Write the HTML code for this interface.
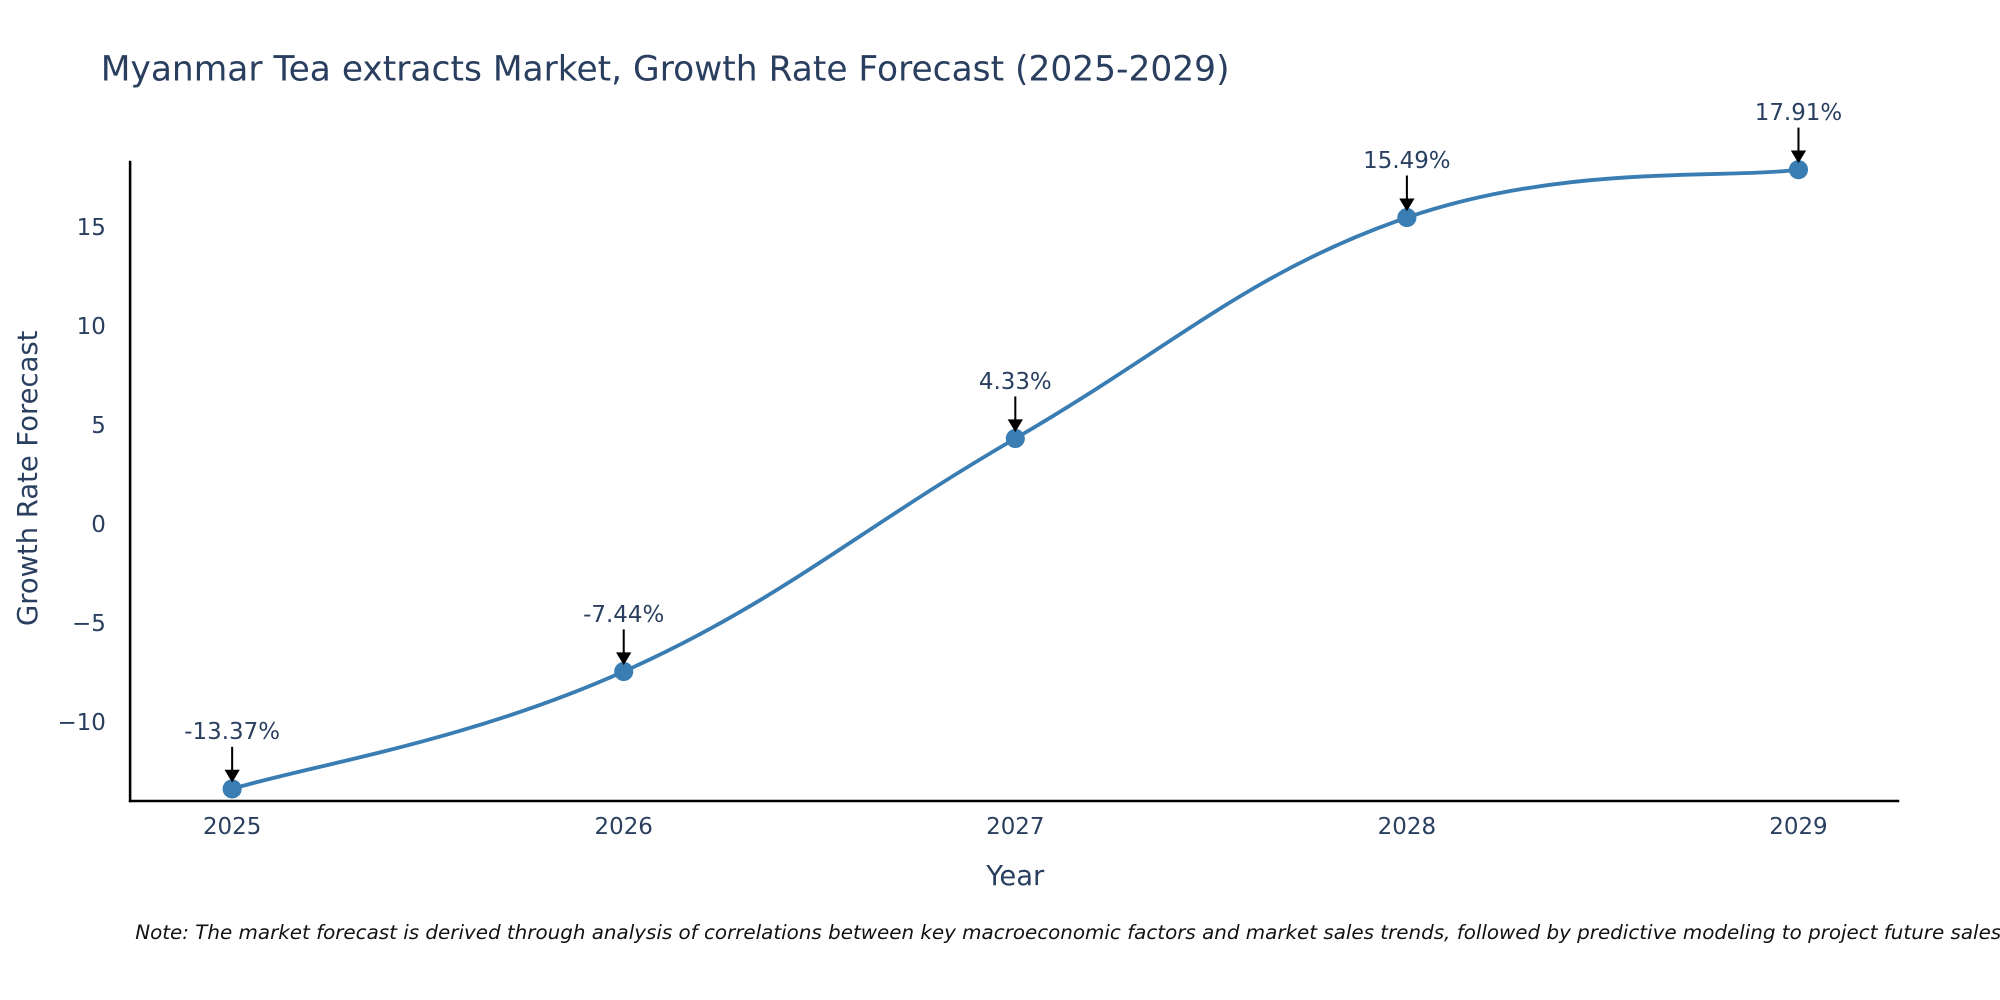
<!DOCTYPE html>
<html><head><meta charset="utf-8"><style>
html,body{margin:0;padding:0;background:#fff;width:2000px;height:1000px;overflow:hidden}
svg{display:block;font-family:"DejaVu Sans","Liberation Sans",sans-serif}
</style></head><body>
<svg id="chart" width="2000" height="1000" viewBox="0 0 1568 784">
<text x="79" y="63" font-size="27" fill="#2a3f5f">Myanmar Tea extracts Market, Growth Rate Forecast (2025-2029)</text>
<g id="yticks"></g>
<g id="xticks"></g>
<line x1="102" y1="126" x2="102" y2="629" stroke="#000" stroke-width="2"/>
<line x1="101" y1="628" x2="1489" y2="628" stroke="#000" stroke-width="2"/>
<path id="line" fill="none" stroke="#3a7db3" stroke-width="3"/>
<g id="points"></g>
<g id="annots"></g>
<text x="796" y="694" font-size="21.5" fill="#2a3f5f" text-anchor="middle">Year</text>
<text transform="translate(29,375) rotate(-90)" font-size="21.5" fill="#2a3f5f" text-anchor="middle">Growth Rate Forecast</text>
<text x="106" y="736" font-size="15.6" font-style="italic" fill="#111">Note: The market forecast is derived through analysis of correlations between key macroeconomic factors and market sales trends, followed by predictive modeling to project future sales.</text>
</svg>
<script>
const years = ["2025","2026","2027","2028","2029"];
const values = [-13.37, -7.44, 4.33, 15.49, 17.91];
const yTicks = [-10, -5, 0, 5, 10, 15];
const yTickLabels = ["\u221210","\u22125","0","5","10","15"];
const NS = "http://www.w3.org/2000/svg";
function xs(i){return 182 + i*307;}
function ys(v){return 411 - v*15.52;}
function mk(tag, attrs, parent){const e=document.createElementNS(NS,tag);for(const k in attrs)e.setAttribute(k,attrs[k]);parent.appendChild(e);return e;}
const yt=document.getElementById('yticks');
yTicks.forEach((t,i)=>{
  const e=mk('text',{x:83,y:ys(t)+6,'font-size':18,fill:'#2a3f5f','text-anchor':'end'},yt);
  e.textContent=yTickLabels[i];
  
  
});
const xt=document.getElementById('xticks');
years.forEach((y,i)=>{
  const e=mk('text',{x:xs(i),y:654,'font-size':18,fill:'#2a3f5f','text-anchor':'middle'},xt);
  e.textContent=y;
  
  
});
const P=values.map((v,i)=>[xs(i),ys(v)]);
let d=`M${P[0][0]},${P[0][1]}`;
for(let i=0;i<P.length-1;i++){
  const p0=P[Math.max(i-1,0)],p1=P[i],p2=P[i+1],p3=P[Math.min(i+2,P.length-1)];
  const c1=[p1[0]+(p2[0]-p0[0])/5,p1[1]+(p2[1]-p0[1])/5];
  const c2=[p2[0]-(p3[0]-p1[0])/5,p2[1]-(p3[1]-p1[1])/5];
  d+=` C${c1[0]},${c1[1]} ${c2[0]},${c2[1]} ${p2[0]},${p2[1]}`;
}
document.getElementById('line').setAttribute('d',d);
const pts=document.getElementById('points'),an=document.getElementById('annots');
values.forEach((v,i)=>{
  const c=mk('circle',{cx:xs(i),cy:ys(v),r:7.5,fill:'#3a7db3'},pts);
  
  
  const x=xs(i),y=ys(v);
  const l=mk('line',{x1:x,y1:y-33,x2:x,y2:y-14,stroke:'#000','stroke-width':1.6},an);
  
  
  const h=mk('polygon',{points:`${x-6},${y-15} ${x+6},${y-15} ${x},${y-5}`,fill:'#000'},an);
  
  
  const t=mk('text',{x:x,y:y-39,'font-size':18,fill:'#2a3f5f','text-anchor':'middle'},an);
  t.textContent=v.toFixed(2)+'%';
  
  
});
</script>
</body></html>
